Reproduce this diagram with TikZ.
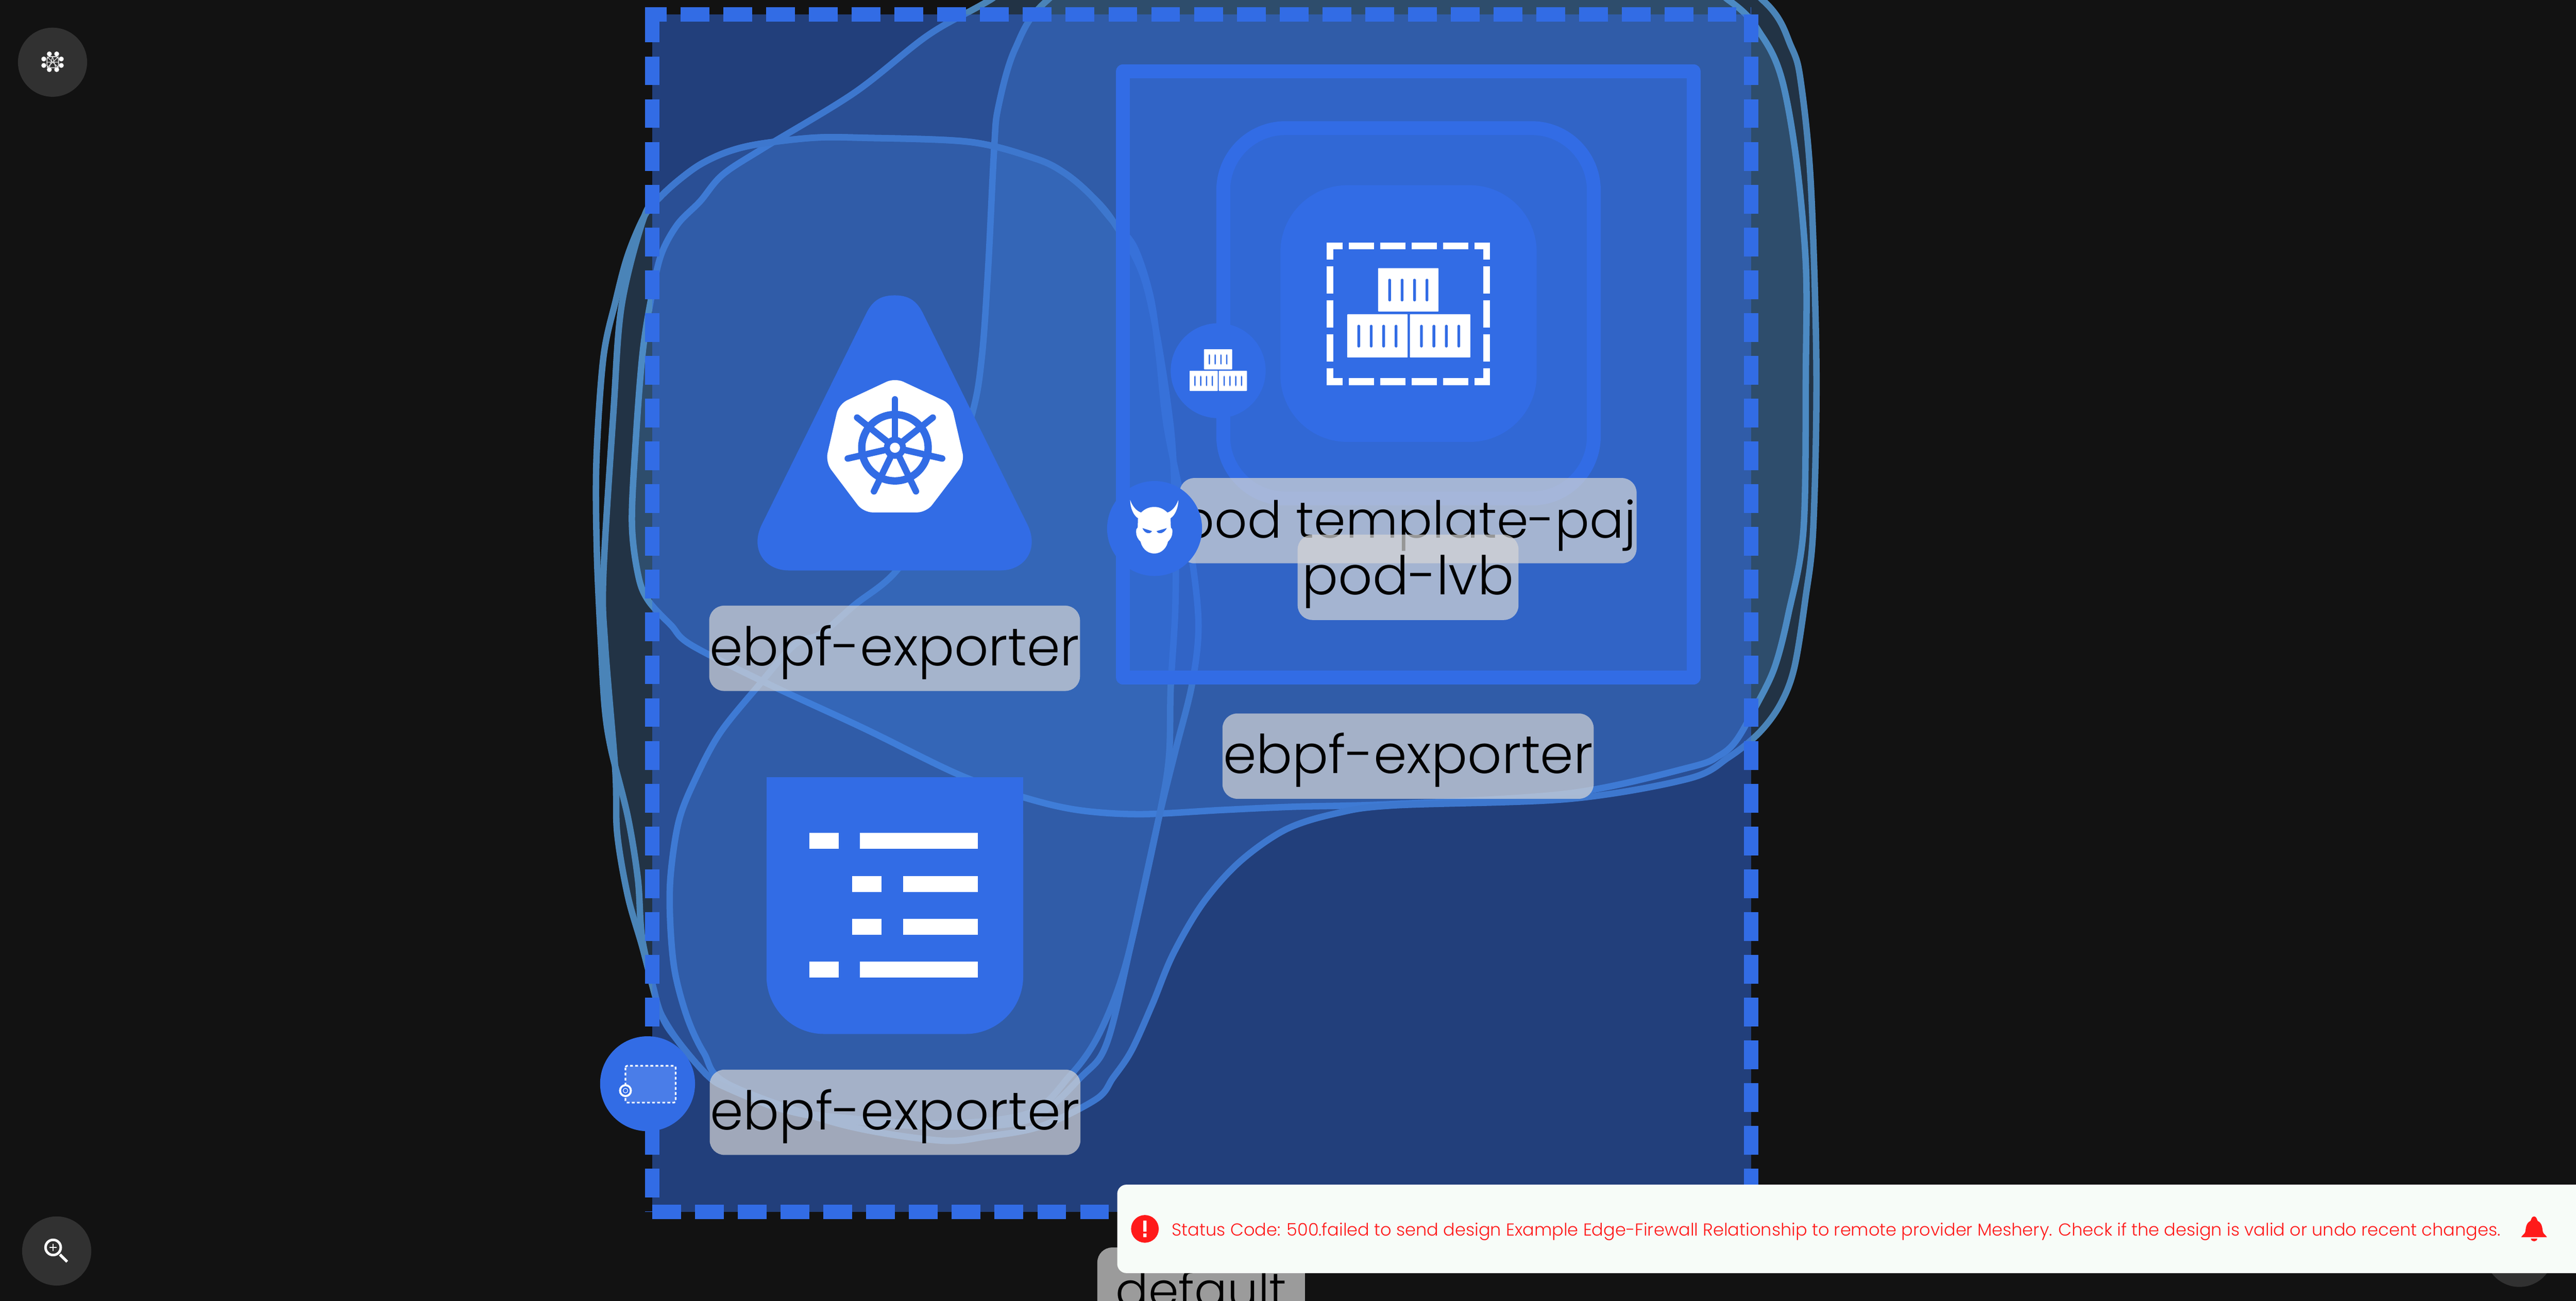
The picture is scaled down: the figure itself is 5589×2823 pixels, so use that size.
\documentclass[tikz,border=0pt]{standalone}
\usepackage{fontspec}
\setmainfont{Poppins}[UprightFont=* Light]
\usepackage{tikz}
\definecolor{bgdark}{HTML}{121212}
\definecolor{kubeblue}{HTML}{326CE5}
\definecolor{hullline}{HTML}{4A84B8}
\definecolor{hullfill}{HTML}{56A0EA}
\definecolor{btngrey}{HTML}{313131}
\definecolor{toastbg}{HTML}{F7FCF8}
\definecolor{alertred}{HTML}{FF1A1A}
\tikzset{
  bubble/.style={draw=hullline,line width=.14cm,fill=hullfill,fill opacity=.24},
  bubbleline/.style={draw=hullline,line width=.14cm},
  zoneline/.style={draw=kubeblue,line width=.31cm,dash pattern=on .624cm off .304cm},
  lbl/.style={fill=black!16,fill opacity=.7,text opacity=1,text=black,rounded corners=.32cm,inner sep=0pt,
    minimum height=1.85cm,text height=1.3cm,text depth=.55cm,font=\fontsize{33}{33}\selectfont},
  iconline/.style={draw=white,line width=.15cm},
}
\newcommand{\cargostack}[3]{%
  \begin{scope}[shift={(#1,#2)},scale=#3]
    \foreach \cx/\cy in {67/0,0/100,136/100}{
      \fill[white,rounded corners=.01cm] (\cx,\cy) rectangle ++(131,94);
      \foreach \sx in {22,49,76,103}
        \fill[kubeblue,rounded corners=.02cm] (\cx+\sx,\cy+23) rectangle ++(6,49);
    }
  \end{scope}}
\begin{document}
\begin{tikzpicture}[x=.01cm,y=-.01cm,join=round] % Design canvas
  \useasboundingbox (0,0) rectangle (5589,2823);
  \clip (0,0) rectangle (5589,2823);
  \fill[bgdark] (0,0) rectangle (5589,2823);
  % bubble hulls
  \path[bubble] plot[smooth cycle,tension=.55] coordinates {(2148,0)(2014,76)(1854,201)(1657,321)(1568,379)(1519,437)(1470,487)(1434,554)(1412,652)(1394,768)(1380,946)(1371,1134)(1385,1250)(1407,1304)(1456,1357)(1500,1400)(1670,1486)(1875,1581)(2080,1681)(2223,1731)(2339,1758)(2473,1767)(2650,1758)(2803,1751)(3024,1745)(3403,1722)(3667,1665)(3730,1640)(3767,1607)(3810,1532)(3850,1449)(3880,1333)(3913,1148)(3918,804)(3918,574)(3897,344)(3866,172)(3824,80)(3750,0)(3500,-150)(2400,-150)};
  \path[bubble] plot[smooth cycle,tension=.55] coordinates {(2273,0)(2202,107)(2166,232)(2157,321)(2144,580)(2130,777)(2108,902)(2040,1100)(1943,1241)(1854,1313)(1782,1375)(1723,1400)(1643,1491)(1562,1591)(1509,1690)(1473,1781)(1455,1899)(1454,1999)(1464,2108)(1491,2208)(1527,2285)(1580,2353)(1821,2439)(2036,2475)(2143,2466)(2259,2444)(2379,2385)(2415,2339)(2455,2280)(2500,2180)(2545,2071)(2610,1960)(2690,1870)(2790,1800)(2900,1765)(3024,1748)(3403,1734)(3663,1690)(3750,1644)(3817,1590)(3863,1528)(3893,1449)(3917,1300)(3934,1148)(3941,804)(3929,402)(3908,184)(3887,103)(3824,0)(3600,-150)(2500,-150)};
  \path[bubble] plot[smooth cycle,tension=.55] coordinates {(1871,299)(2104,308)(2246,344)(2309,375)(2363,420)(2416,482)(2487,620)(2539,918)(2550,1148)(2550,1320)(2540,1491)(2536,1645)(2513,1781)(2455,2044)(2420,2162)(2375,2262)(2321,2335)(2232,2416)(2036,2439)(1821,2425)(1696,2407)(1580,2362)(1536,2335)(1473,2262)(1433,2198)(1393,2053)(1362,1944)(1339,1808)(1335,1672)(1313,1400)(1309,1250)(1331,893)(1349,661)(1398,469)(1431,429)(1470,393)(1519,357)(1577,330)(1644,313)(1764,299)};
  \path[bubbleline] plot[smooth cycle,tension=.55] coordinates {(1871,299)(2104,308)(2246,344)(2309,375)(2363,420)(2416,482)(2461,536)(2496,643)(2514,768)(2532,929)(2576,1148)(2600,1343)(2587,1481)(2550,1630)(2513,1781)(2455,2044)(2402,2262)(2348,2335)(2232,2430)(2036,2445)(1821,2430)(1696,2407)(1580,2362)(1536,2335)(1473,2262)(1433,2198)(1420,2153)(1393,2035)(1384,1908)(1362,1772)(1326,1627)(1312,1536)(1304,1400)(1295,1200)(1294,1000)(1309,777)(1336,652)(1362,554)(1398,469)(1431,429)(1470,393)(1519,357)(1577,330)(1644,313)(1764,299)};
  % namespace zone
  \fill[kubeblue,fill opacity=.5] (1415,31) rectangle (3799,2630);
  \draw[zoneline,dash phase=.164cm] (1400,31)--(3799,31);
  \draw[zoneline,dash phase=.014cm] (1415,31)--(1415,2630);
  \draw[zoneline,dash phase=.014cm] (3799,31)--(3799,2630);
  \draw[zoneline] (1415,2630)--(3799,2630);
  % pod and container template
  \filldraw[draw=kubeblue,line width=.3cm,fill=kubeblue,fill opacity=.5,draw opacity=1] (2436,155) rectangle (3675,1470);
  \filldraw[draw=kubeblue,line width=.3cm,fill=kubeblue,fill opacity=.5,draw opacity=1,rounded corners=1.35cm] (2654,278) rectangle (3458,1082);
  \fill[kubeblue,rounded corners=1.45cm] (2778,402) rectangle (3334,959);
  \draw[iconline,dash pattern=on .544cm off .136cm,dash phase=.194cm] (2878,533.5)--(3233,533.5);
  \draw[iconline,dash pattern=on .544cm off .136cm,dash phase=.194cm] (2878,828.5)--(3233,828.5);
  \draw[iconline,dash pattern=on .59cm off .147cm,dash phase=.22cm] (2885.5,526)--(2885.5,836);
  \draw[iconline,dash pattern=on .59cm off .147cm,dash phase=.22cm] (3225.5,526)--(3225.5,836);
  \cargostack{2923}{582}{1}
  % kubernetes node
  \fill[kubeblue] (1880,679) .. controls (1895,649) and (1915,641) .. (1941,641) .. controls (1967,641) and (1987,649) .. (2002,679) -- (2229,1138) .. controls (2255,1190) and (2225,1238) .. (2170,1238) -- (1712,1238) .. controls (1657,1238) and (1627,1190) .. (1653,1138) -- cycle;
  \fill[white,rounded corners=.2cm] (1941.7,820)--(2064,877)--(2093,1003)--(2010,1112)--(1873,1112)--(1791,1003)--(1820,877)--cycle;
  \draw[kubeblue,line width=.16cm] (1941.7,971.7) circle (72);
  \foreach \ang in {-90,-38.57,12.86,64.29,115.71,167.14,218.57}{
    \draw[kubeblue,line width=.14cm,line cap=round] (1941.7,971.7)--++(\ang:105);
  }
  \fill[kubeblue] (1941.7,971.7) circle (24);
  \fill[white] (1941.7,971.7) circle (11);
  % list node
  \fill[kubeblue,rounded corners=1.25cm] (1663,1687)--(1663,2244)--(2220,2244)--(2220,1687)--cycle;
  \fill[kubeblue] (1663,1687) rectangle (2220,1850);
  \foreach \rowy/\tabx/\barx in {1808/1756/1866,1901/1849/1959,1994/1849/1959,2087/1756/1866}{
    \fill[white] (\tabx,\rowy) rectangle ++(64,34.5);
    \fill[white] (\barx,\rowy) rectangle (2122,\rowy+34.5);
  }
  % labels
  \node[lbl,minimum width=8.04cm] (lblkube) at (1941,1407) {ebpf-exporter};
  \node[lbl,minimum width=8.04cm] (lbllist) at (1942,2414) {ebpf-exporter};
  \node[lbl,minimum width=8.05cm] (lbldeploy) at (3055,1641) {ebpf-exporter};
  \node[lbl,minimum width=9.91cm,font=\fontsize{31.5}{31.5}\selectfont] (lbltemplate) at (3055,1130) {pod template-paj};
  \node[lbl,minimum width=4.79cm] (lblpod) at (3055,1253) {pod-lvb};
  \node[lbl,minimum width=4.5cm,font=\fontsize{30}{30}\selectfont] (lbldefault) at (2606,2800) {default};
  % badges
  \fill[kubeblue] (2643,804.5) circle (103);
  \cargostack{2581}{758}{.466}
  \fill[kubeblue] (2505,1147) circle (103);
  \begin{scope}[shift={(2380,680)},xscale=.3333,yscale=.3827]
    \fill[white] (373,1362) .. controls (425,1362) and (455,1325) .. (462,1295) .. controls (478,1282) and (492,1262) .. (491,1240) .. controls (491,1225) .. (481,1215) -- (479,1162) .. controls (510,1145) and (530,1100) .. (530,1058) .. controls (515,1095) and (490,1120) .. (459,1130) .. controls (430,1105) and (400,1098) .. (373,1098) .. controls (346,1098) and (316,1105) .. (287,1130) .. controls (256,1120) and (231,1095) .. (216,1058) .. controls (216,1100) and (236,1145) .. (267,1162) -- (265,1215) .. controls (255,1225) .. (255,1240) .. controls (254,1262) and (268,1282) .. (284,1295) .. controls (291,1325) and (321,1362) .. (373,1362) -- cycle;
    \fill[kubeblue] (388,1235) -- (455,1218) .. controls (435,1250) and (400,1255) .. (388,1235) -- cycle;
    \fill[kubeblue] (358,1235) -- (296,1218) .. controls (311,1250) and (346,1255) .. (358,1235) -- cycle;
  \end{scope}
  \fill[kubeblue] (1405,2352) circle (103);
  \filldraw[draw=white,line width=.035cm,dash pattern=on .06cm off .05cm,fill=white,fill opacity=.12,draw opacity=1,rounded corners=.04cm] (1357,2313) rectangle (1466,2393);
  \fill[white] (1357,2367) circle (14);
  \fill[kubeblue] (1357,2367) circle (9.5);
  \draw[white,line width=.012cm] (1357,2367) circle (5);
  % view buttons
  \fill[btngrey] (114,135) circle (75);
  \foreach \petx/\pety in {107/117,123/117,95/128,133/128,95/142,133/142,107/151,123/151}{
    \fill[white] (\petx,\pety) circle (5.3);
  }
  \draw[white!85!black,line width=.02cm,rounded corners=.05cm] (102,123) rectangle (127,147);
  \draw[white!85!black,line width=.015cm] (102,123)--(127,147) (127,123)--(102,147) (114,123)--(107,147) (114,123)--(121,147) (102,135)--(127,135);
  \fill[btngrey] (123,2715) circle (75);
  \draw[white,line width=.055cm] (115.3,2707.3) circle (16.5);
  \draw[white,line width=.06cm] (130,2722.7)--(145.7,2738.3);
  \draw[white,line width=.02cm] (107.8,2707.3)--(122.8,2707.3) (115.3,2699.8)--(115.3,2714.8);
  \fill[btngrey] (5466,2718) circle (75);
  % toast
  \fill[toastbg,rounded corners=.2cm] (2424,2571) rectangle (5700,2763);
  \fill[alertred] (2484,2667) circle (30);
  \fill[white] (2480.5,2649) rectangle (2487.5,2673) (2480.5,2677) rectangle (2487.5,2685);
  \node[anchor=base west,inner sep=0pt,text=alertred,font=\fontsize{10.68}{11}\selectfont] (toastmsg) at (2542,2682) {Status Code: 500.failed to send design Example Edge-Firewall Relationship to remote provider Meshery. Check if the design is valid or undo recent changes.};
  \fill[alertred] (5498,2640) .. controls (5492,2640) and (5492,2648) .. (5490,2650) .. controls (5480,2654) and (5480,2668) .. (5479,2673) .. controls (5478,2678) and (5473,2680) .. (5470,2685) -- (5526,2685) .. controls (5523,2680) and (5518,2678) .. (5517,2673) .. controls (5516,2668) and (5516,2654) .. (5506,2650) .. controls (5504,2648) and (5504,2640) .. (5498,2640) -- cycle;
  \fill[alertred] (5491,2688) -- (5505,2688) .. controls (5504,2696) and (5492,2696) .. (5491,2688) -- cycle;
\end{tikzpicture}
\end{document}
